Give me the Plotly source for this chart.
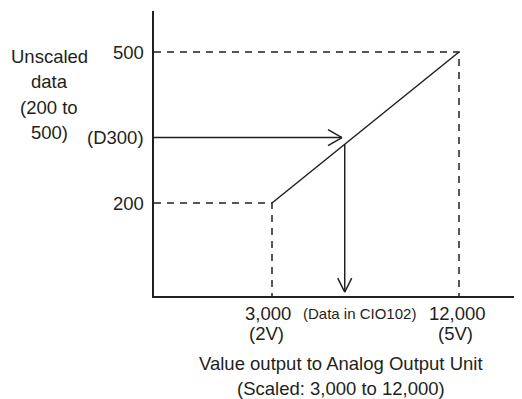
import plotly.graph_objects as go

# escalado: datos sin escalar (D300) -> valor de salida (CIO102)
x_escala = [3000, 12000]          # valor escalado
y_sin_escala = [200, 500]         # dato sin escalar
volt_lbl = ['(2V)', '(5V)']
x_lbl = ['3,000', '12,000']
y_lbl = ['200', '500']

d300 = 330        # nivel de la flecha horizontal (D300)
d300_tip = 6370   # donde termina la flecha horizontal
cio102 = 6500     # posición de la flecha vertical (CIO102)
cio102_fin = 23   # punta de la flecha vertical

x_rng = [-2679, 15032]
y_rng = [15.2, 581.5]

titulo_y = ['Unscaled', 'data', '(200 to', '500)']
titulo_x = ['Value output to Analog Output Unit', '(Scaled: 3,000 to 12,000)']

INK = '#231f20'
FONT = 'Liberation Sans, Arial, sans-serif'
OFF = 8  # margen por defecto del <body>

fig = go.Figure()

# línea de conversión
fig.add_trace(go.Scatter(x=x_escala, y=y_sin_escala, mode='lines',
                         line=dict(color=INK, width=1.5), hoverinfo='skip'))
# guías punteadas
for xv, yv in zip(x_escala, y_sin_escala):
    fig.add_trace(go.Scatter(x=[x_rng[0], xv, xv], y=[yv, yv, y_rng[0]], mode='lines',
                             line=dict(color=INK, width=1.5, dash='7px,6px'), hoverinfo='skip'))

# flecha horizontal (D300)
fig.add_trace(go.Scatter(x=[x_rng[0], d300_tip], y=[d300, d300], mode='lines',
                         line=dict(color=INK, width=1.5), hoverinfo='skip'))
# flecha vertical (CIO102)
y_diag = y_sin_escala[0] + (cio102 - x_escala[0]) / (x_escala[1] - x_escala[0]) * (y_sin_escala[1] - y_sin_escala[0])
fig.add_trace(go.Scatter(x=[cio102, cio102], y=[y_diag, cio102_fin], mode='lines',
                         line=dict(color=INK, width=1.5), hoverinfo='skip'))

# puntas abiertas en V
for dx, dy in [(-14, 8), (-14, -8)]:
    fig.add_shape(type='line', xref='x', yref='y', xsizemode='pixel', ysizemode='pixel',
                  xanchor=d300_tip, yanchor=d300, x0=0, y0=0, x1=dx, y1=dy,
                  line=dict(color=INK, width=1.5))
for dx, dy in [(-7, 14), (7, 14)]:
    fig.add_shape(type='line', xref='x', yref='y', xsizemode='pixel', ysizemode='pixel',
                  xanchor=cio102, yanchor=cio102_fin, x0=0, y0=0, x1=dx, y1=dy,
                  line=dict(color=INK, width=1.5))

ann = []
f18 = dict(family=FONT, size=18.5, color=INK)
# etiquetas eje y
for yv, t in zip(y_sin_escala, y_lbl):
    ann.append(dict(x=0, xref='paper', y=yv, yref='y', text=t, xanchor='right',
                    yanchor='middle', xshift=-8, showarrow=False, font=f18))
ann.append(dict(x=0, xref='paper', y=d300, yref='y', text='(D300)', xanchor='right',
                yanchor='middle', xshift=-8, showarrow=False, font=f18))
# etiquetas eje x
for xv, t, v, sh in zip(x_escala, x_lbl, volt_lbl, [-4, -2]):
    ann.append(dict(x=xv, xref='x', y=0, yref='paper', text=t, xanchor='center',
                    yanchor='middle', xshift=sh, yshift=-17, showarrow=False, font=f18))
    ann.append(dict(x=xv, xref='x', y=0, yref='paper', text=v, xanchor='center',
                    yanchor='middle', xshift=sh - 2, yshift=-37, showarrow=False, font=f18))
ann.append(dict(x=cio102, xref='x', y=0, yref='paper', text='(Data in CIO102)',
                xanchor='center', yanchor='middle', xshift=15, yshift=-17, showarrow=False,
                font=dict(family=FONT, size=15, color=INK)))
# títulos
for i, t in enumerate(titulo_y):
    ann.append(dict(x=0, xref='paper', y=1, yref='paper', text=t, xanchor='center',
                    yanchor='middle', xshift=-105, yshift=-(45 + 25.5 * i), showarrow=False, font=f18))
for i, t in enumerate(titulo_x):
    ann.append(dict(x=0.508, xref='paper', y=0, yref='paper', text=t, xanchor='center',
                    yanchor='middle', yshift=-(67 + 25 * i), showarrow=False, font=f18))

fig.update_layout(
    width=522 - OFF, height=399 - OFF,
    margin=dict(l=154 - OFF, r=0, t=11 - OFF, b=103),
    paper_bgcolor='white', plot_bgcolor='white', showlegend=False,
    annotations=ann,
    xaxis=dict(range=x_rng, showgrid=False, zeroline=False, showticklabels=False,
               ticks='', showline=True, linecolor=INK, linewidth=1.5),
    yaxis=dict(range=y_rng, showgrid=False, zeroline=False, showticklabels=False,
               ticks='', showline=True, linecolor=INK, linewidth=1.5),
)
fig.write_html('out.html')
